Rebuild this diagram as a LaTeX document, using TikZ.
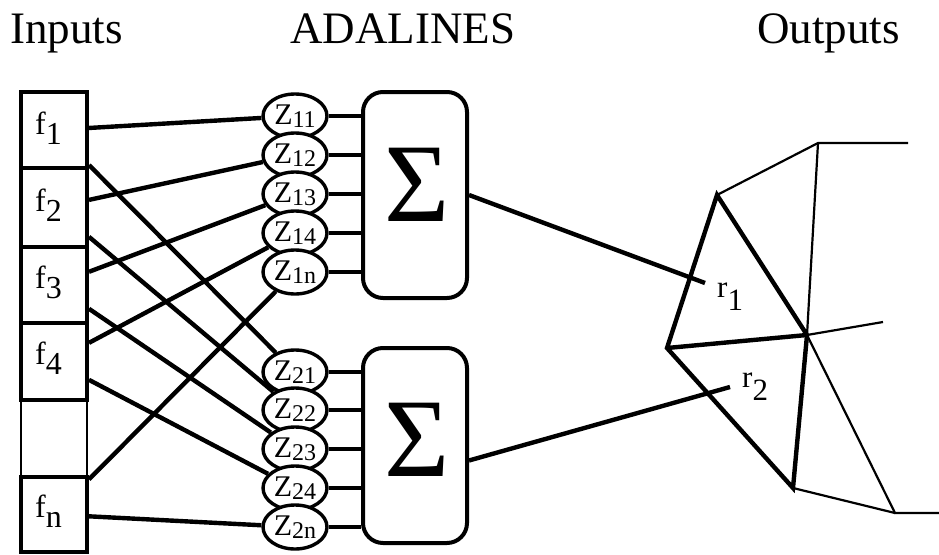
\documentclass[tikz,border=0pt]{standalone}
\usepackage{fontspec}
\setmainfont{Liberation Serif}
\usetikzlibrary{shapes.geometric}
% label of an adaline weight: Z with a lowered index
\newcommand{\zlab}[1]{Z\raisebox{-3pt}{\fontsize{24}{24}\selectfont #1}}
% feature / output label with a lowered index
\newcommand{\idx}[2]{#1\raisebox{-10pt}{#2}}
\begin{document}
\begin{tikzpicture}[x=1pt,y=-1pt,
  conn/.style={line width=4.4pt},
  thinline/.style={line width=2.2pt},
  fbox/.style={draw,line width=4pt,minimum width=66pt,inner sep=0pt},
  flab/.style={font=\fontsize{32}{32}\selectfont,anchor=base west,inner sep=0pt},
  zell/.style={draw,ellipse,line width=3.4pt,minimum width=64pt,minimum height=44pt,
    inner sep=0pt,fill=white,font=\fontsize{30}{30}\selectfont},
  sbox/.style={draw,rounded corners=20pt,line width=4pt,minimum width=104pt,inner sep=0pt},
  slab/.style={font=\fontsize{112}{112}\selectfont,anchor=base,inner sep=0pt},
  title/.style={font=\fontsize{45}{45}\selectfont,anchor=base west,inner sep=0pt},
  outlab/.style={font=\fontsize{31}{31}\selectfont,anchor=base west,inner sep=0pt}]
\useasboundingbox (0,0) rectangle (939,554);

% column titles
\node[title] (tin)  at (10,43)  {Inputs};
\node[title] (tada) at (290,43) {ADALINES};
\node[title] (tout) at (757,43) {Outputs};

% input feature column
\node[fbox,line width=2.4pt,minimum height=77pt] (fe) at (54,438.5) {};
\node[fbox,minimum height=76pt] (f1) at (54,130)   {};
\node[fbox,minimum height=79pt] (f2) at (54,207.5) {};
\node[fbox,minimum height=76pt] (f3) at (54,285)   {};
\node[fbox,minimum height=77pt] (f4) at (54,361.5) {};
\node[fbox,minimum height=75pt] (fn) at (54,514.5) {};
\node[flab] (lf1) at (35,134) {\idx{f}{1}};
\node[flab] (lf2) at (35,211) {\idx{f}{2}};
\node[flab] (lf3) at (35,288) {\idx{f}{3}};
\node[flab] (lf4) at (35,364) {\idx{f}{4}};
\node[flab] (lfn) at (35,517) {\idx{f}{n}};

% adaline weights
\node[zell] (z11) at (295,116) {\zlab{11}};
\node[zell] (z12) at (295,155) {\zlab{12}};
\node[zell] (z13) at (295,194) {\zlab{13}};
\node[zell] (z14) at (295,233) {\zlab{14}};
\node[zell] (z1n) at (295,272) {\zlab{1n}};
\node[zell] (z21) at (295,372) {\zlab{21}};
\node[zell] (z22) at (295,410) {\zlab{22}};
\node[zell] (z23) at (295,449) {\zlab{23}};
\node[zell] (z24) at (295,488) {\zlab{24}};
\node[zell] (z2n) at (295,527) {\zlab{2n}};

% summing units
\node[sbox,minimum height=206pt] (s1) at (415,195)   {};
\node[sbox,minimum height=195pt] (s2) at (415,445.5) {};
\node[slab] (sg1) at (417,221) {Σ};
\node[slab] (sg2) at (417,476) {Σ};

% inputs to weights
\foreach \f/\a/\b in {f1/z11/z21, f2/z12/z22, f3/z13/z23, f4/z14/z24, fn/z1n/z2n}{
  \draw[conn] (\f) -- (\a);
  \draw[conn] (\f) -- (\b);
}

% weights to summing units
\foreach \z in {z11,z12,z13,z14,z1n}{
  \draw[conn] (\z.east) -- (\z.east -| s1.west);
}
\foreach \z in {z21,z22,z23,z24,z2n}{
  \draw[conn] (\z.east) -- (\z.east -| s2.west);
}

% output space partition
\coordinate (A) at (717,195);
\coordinate (B) at (667,348);
\coordinate (C) at (807,335);
\coordinate (D) at (793,488);
\coordinate (E) at (818,143);
\coordinate (F) at (895,513);
\coordinate (ET) at (908,143);
\coordinate (CR) at (883,322);
\coordinate (FR) at (939,513);
\coordinate (r1) at (705,283);
\coordinate (r2) at (730,387);

\draw[thinline] (A) -- (E) -- (ET);
\draw[thinline] (E) -- (C) -- (CR);
\draw[thinline] (C) -- (F) -- (FR);
\draw[thinline] (D) -- (F);
\draw[conn] (A) -- (B) -- (D) -- (C) -- cycle;
\draw[conn] (B) -- (C);

% summing units to outputs
\draw[conn] (s1.east) -- (r1);
\draw[conn] ([yshift=-15pt]s2.east) -- (r2);

\node[outlab] (lr1) at (717,297) {r\raisebox{-13pt}{1}};
\node[outlab] (lr2) at (742,387) {r\raisebox{-13pt}{2}};
\end{tikzpicture}
\end{document}
